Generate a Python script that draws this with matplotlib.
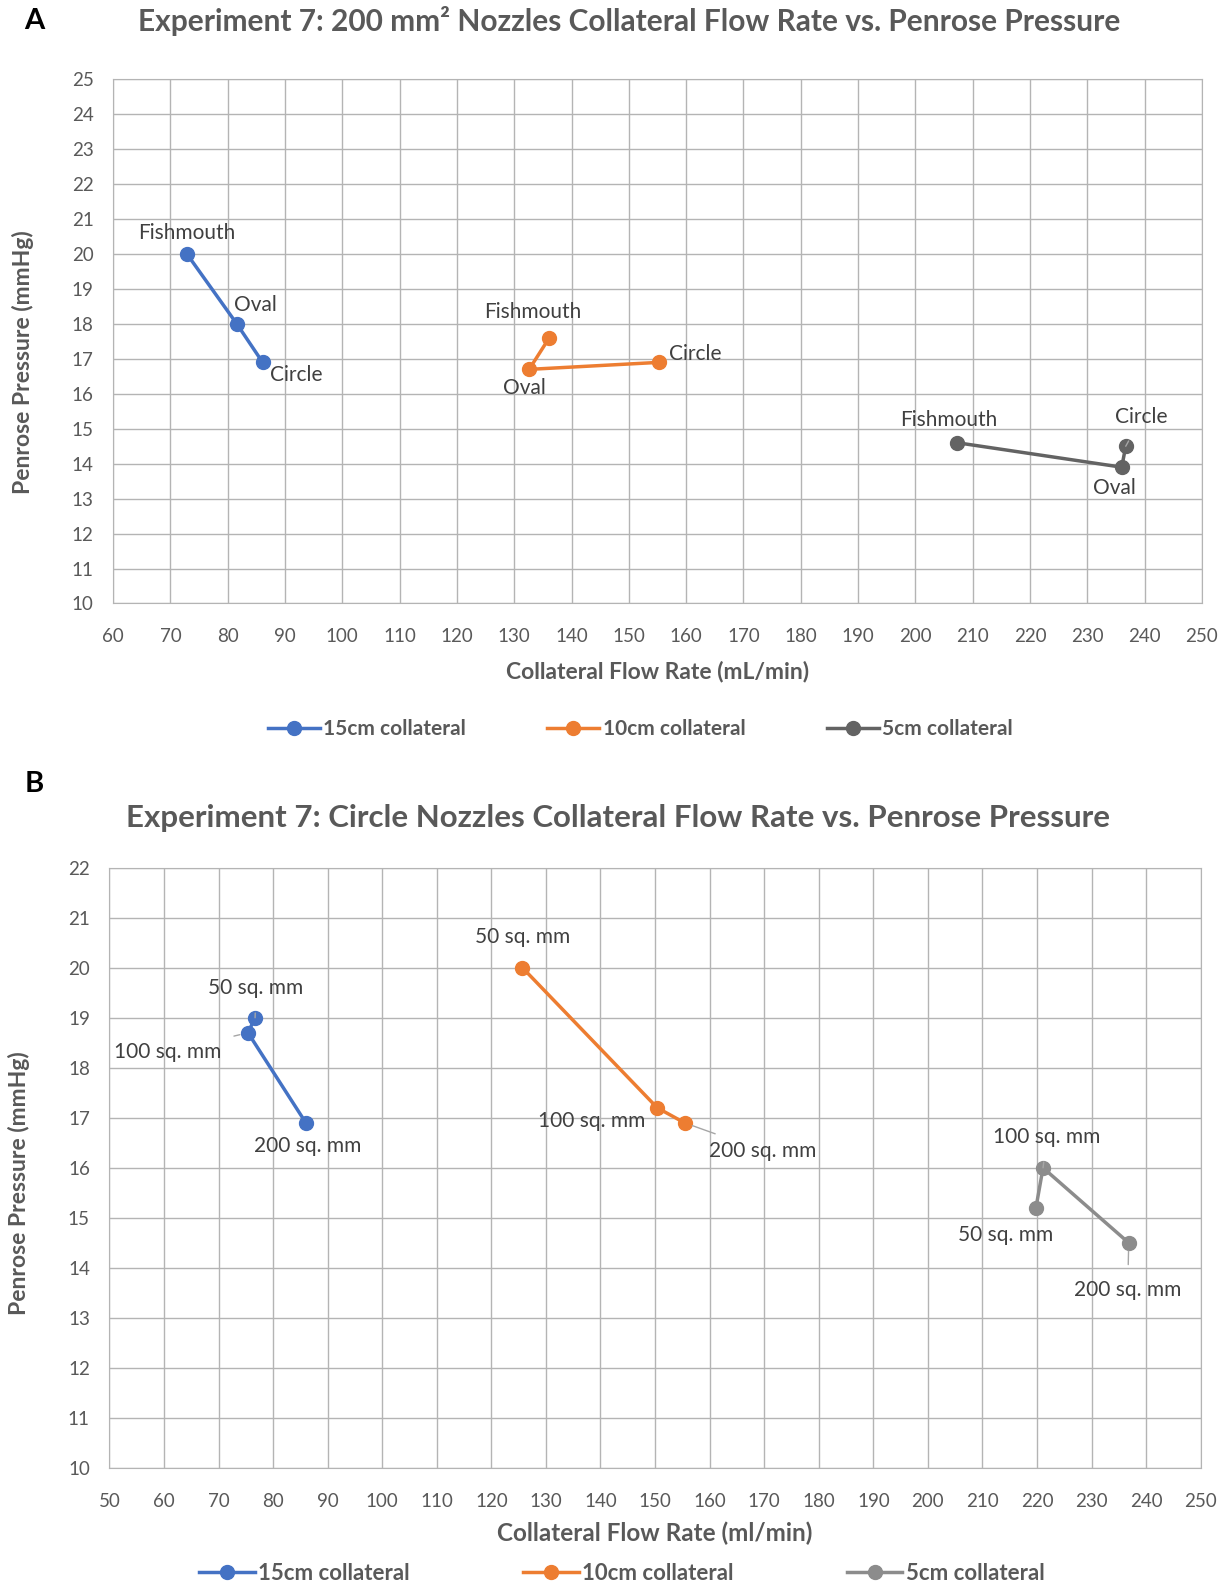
import matplotlib
matplotlib.use("Agg")
from matplotlib import pyplot as plt
from matplotlib.lines import Line2D

plt.rcParams['font.family'] = ['Lato', 'DejaVu Sans']

series_names = ['15cm collateral', '10cm collateral', '5cm collateral']

# Panel A: 200 mm2 nozzles, points in order Fishmouth, Oval, Circle
a_labels = ['Fishmouth', 'Oval', 'Circle']
a_flow = [[72.9, 81.6, 86.1],
          [136.1, 132.6, 155.2],
          [207.3, 236.0, 236.7]]
a_pressure = [[20.0, 18.0, 16.9],
              [17.6, 16.7, 16.9],
              [14.6, 13.9, 14.5]]

# Panel B: circle nozzles, points in order 50, 100, 200 sq. mm
b_labels = ['50 sq. mm', '100 sq. mm', '200 sq. mm']
b_flow = [[76.7, 75.4, 86.0],
          [125.7, 150.4, 155.4],
          [219.8, 221.1, 236.8]]
b_pressure = [[19.0, 18.7, 16.9],
              [20.0, 17.2, 16.9],
              [15.2, 16.0, 14.5]]

a_colors = ['#4472c4', '#ed7d31', '#636363']
b_colors = ['#4472c4', '#ed7d31', '#8c8c8c']
text_gray = '#595959'
label_gray = '#404040'
grid_gray = '#b4b4b4'

# label offsets in pixels (dx, dy) and whether a leader line is drawn
a_offsets = [[(0, 21, False), (19, 19, False), (34, -13, False)],
             [(-16, 26, False), (-5, -19, False), (37, 8, False)],
             [(-8, 23, False), (-7, -21, False), (16, 29, True)]]
b_offsets = [[(1, 30, True), (-80, -19, True), (2, -23, False)],
             [(0, 31, False), (-66, -13, False), (78, -28, True)],
             [(-30, -27, False), (4, 31, True), (-1, -47, True)]]


def draw_panel(ax, flows, pressures, labels, offsets, colors, xlim, ylim, label_y):
    for i in range(3):
        ax.plot(flows[i], pressures[i], color=colors[i], lw=2.5, marker='o',
                ms=10, zorder=3)
        for j in range(3):
            dx, dy, leader = offsets[i][j]
            props = None
            if leader:
                props = dict(arrowstyle='-', color='#a6a6a6', lw=1,
                             shrinkA=9, shrinkB=6)
            ax.annotate(labels[j], (flows[i][j], pressures[i][j]),
                        xytext=(dx, dy), textcoords='offset pixels',
                        ha='center', va='center', fontsize=15,
                        color=label_gray, arrowprops=props, zorder=4)
    ax.set_xlim(*xlim)
    ax.set_ylim(*ylim)
    ax.set_xticks(range(xlim[0], xlim[1] + 1, 10))
    ax.set_yticks(range(ylim[0], ylim[1] + 1, 1))
    ax.grid(True, color=grid_gray, lw=1)
    ax.set_axisbelow(True)
    for s in ax.spines.values():
        s.set_color(grid_gray)
    ax.tick_params(length=0, labelsize=13.5, labelcolor=text_gray)
    ax.tick_params(axis='x', pad=18)
    ax.tick_params(axis='y', pad=14)
    ax.set_ylabel('Penrose Pressure (mmHg)', fontsize=16.5, fontweight='bold',
                  color=text_gray, labelpad=27)
    ax.yaxis.label.set_y(label_y)


fig = plt.figure(figsize=(12.29, 15.88), dpi=100)

ax1 = fig.add_axes([0.092, 0.620, 0.886, 0.330])
draw_panel(ax1, a_flow, a_pressure, a_labels, a_offsets, a_colors,
           (60, 250), (10, 25), 0.46)
ax1.set_xlabel('Collateral Flow Rate (mL/min)', fontsize=16.5,
               fontweight='bold', color=text_gray, labelpad=11)

ax2 = fig.add_axes([0.089, 0.0756, 0.888, 0.378])
draw_panel(ax2, b_flow, b_pressure, b_labels, b_offsets, b_colors,
           (50, 250), (10, 22), 0.475)
ax2.set_xlabel('Collateral Flow Rate (ml/min)', fontsize=17.5,
               fontweight='bold', color=text_gray, labelpad=8)

fig.text(0.512, 0.987,
         'Experiment 7: 200 mm² Nozzles Collateral Flow Rate vs. Penrose Pressure',
         fontsize=21.5, fontweight='bold', color=text_gray,
         ha='center', va='center')
fig.text(0.503, 0.485,
         'Experiment 7: Circle Nozzles Collateral Flow Rate vs. Penrose Pressure',
         fontsize=22.5, fontweight='bold', color=text_gray,
         ha='center', va='center')

fig.text(0.020, 0.987, 'A', fontsize=21, fontweight='bold', va='center')
fig.text(0.020, 0.506, 'B', fontsize=21, fontweight='bold', va='center')

for colors, x, y, fs, cs in [(a_colors, 0.521, 0.541, 15, 3.9),
                             (b_colors, 0.506, 0.009, 16, 5.1)]:
    handles = [Line2D([], [], color=c, lw=2.5, marker='o', ms=10)
               for c in colors]
    leg = fig.legend(handles, series_names, loc='center', ncol=3,
                     bbox_to_anchor=(x, y), frameon=False,
                     handlelength=2.5, handletextpad=0.15, columnspacing=cs,
                     prop=dict(size=fs, weight='bold'))
    for t in leg.get_texts():
        t.set_color(text_gray)

fig.savefig('out.png', dpi=100)
